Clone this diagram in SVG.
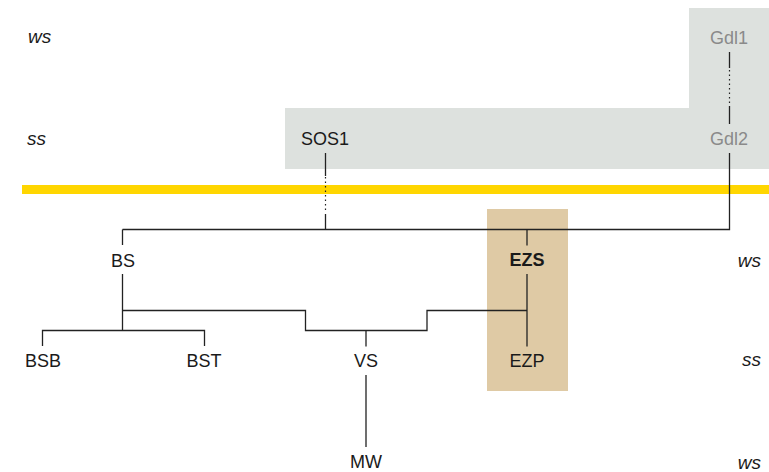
<svg xmlns="http://www.w3.org/2000/svg" width="769" height="472" viewBox="0 0 769 472">
<style>
text{font-family:"Liberation Sans",Arial,sans-serif;font-size:18px;fill:#1a1a1a}
.c{text-anchor:middle}
.g{fill:#8a8a8a}
.b{font-weight:bold}
.lv{font-style:italic;font-size:19px}
.r{text-anchor:end}
.ln{stroke:#222;stroke-width:1.3;fill:none}
.dot{stroke:#222;stroke-width:1.2;fill:none;stroke-dasharray:1.5 3}
</style>
<rect width="769" height="472" fill="#fff"/>
<g id="backgrounds">
<polygon points="689,8 769,8 769,169 285,169 285,108 689,108" fill="#dde1de"/>
<rect x="22" y="185" width="747" height="9" fill="#ffd600"/>
<rect x="487" y="209" width="81" height="182" fill="#dfcaa5"/>
</g>
<g id="connectors">
<path class="ln" d="M325.5,153V176M325.5,214V229.5"/>
<path class="dot" d="M325.5,177V213"/>
<path class="ln" d="M729.5,52V68M729.5,106V124"/>
<path class="dot" d="M729.5,70V105"/>
<path class="ln" d="M122.5,229.5H729.5V153"/>
<path class="ln" d="M122.5,229.5V245M122.5,274V330.5M42.5,346V330.5H204.5V346"/>
<path class="ln" d="M122.5,310.5H305.5V330.5H427V310.5H527"/>
<path class="ln" d="M527,229.5V245.5M527,274V346.5"/>
<path class="ln" d="M366,330.5V346.5M366,375V447"/>
</g>
<g id="levels">
<text class="lv" x="28" y="43">ws</text>
<text class="lv" x="27" y="145">ss</text>
<text class="lv r" x="761" y="267">ws</text>
<text class="lv r" x="761" y="366">ss</text>
<text class="lv r" x="761" y="469">ws</text>
</g>
<g id="node-Gdl1"><text class="c g" x="729" y="44">Gdl1</text></g>
<g id="node-Gdl2"><text class="c g" x="729" y="145">Gdl2</text></g>
<g id="node-SOS1"><text x="301" y="145">SOS1</text></g>
<g id="node-BS"><text class="c" x="123" y="267">BS</text></g>
<g id="node-EZS"><text class="c b" x="527" y="266">EZS</text></g>
<g id="node-BSB"><text class="c" x="43" y="367">BSB</text></g>
<g id="node-BST"><text class="c" x="204" y="367">BST</text></g>
<g id="node-VS"><text class="c" x="366" y="367">VS</text></g>
<g id="node-EZP"><text class="c" x="527" y="367">EZP</text></g>
<g id="node-MW"><text class="c" x="366" y="468">MW</text></g>
</svg>
